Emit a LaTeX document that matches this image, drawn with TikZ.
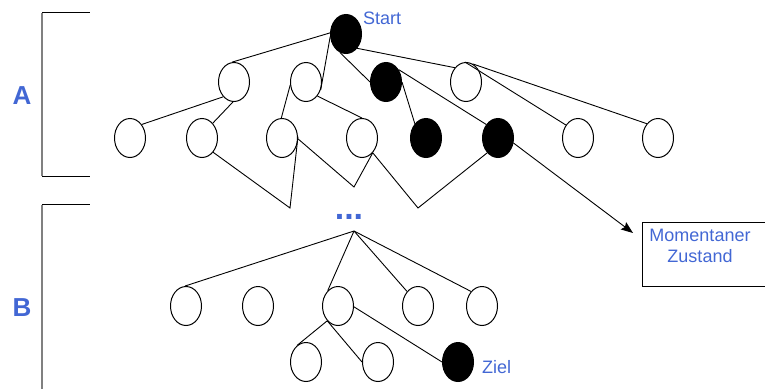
\documentclass[tikz,border=0pt]{standalone}
\usepackage{fontspec}
\setmainfont{Liberation Sans}
\usetikzlibrary{shapes.geometric,arrows.meta}
\definecolor{labelblue}{RGB}{66,103,212}
\definecolor{bracketgray}{RGB}{128,128,128}
\tikzset{
  state/.style={ellipse,draw,line width=1pt,inner sep=0pt,
    minimum width=31pt,minimum height=39pt},
  visited/.style={state,fill=black},
  edge/.style={line width=0.9pt},
  lbl/.style={text=labelblue,inner sep=0pt,font=\fontsize{18}{21}\selectfont},
  part/.style={text=labelblue,inner sep=0pt,font=\fontsize{26}{28}\selectfont\bfseries},
  brackethead/.style={line width=1pt},
  bracketbar/.style={line width=2pt,bracketgray},
}
\begin{document}
\begin{tikzpicture}[x=1pt,y=-1pt]
\useasboundingbox (0,0) rectangle (765,388);

% section brackets and their letters
\draw[brackethead] (42,12) -- (90,12);
\draw[brackethead] (42,176) -- (90,176);
\draw[bracketbar] (42,13) -- (42,176);
\draw[brackethead] (42,204) -- (90,204);
\draw[bracketbar] (42,205) -- (42,390);
\node[part] (lA) at (22,96) {A};
\node[part] (lB) at (22,308) {B};

% upper tree
\node[visited] (s) at (346,34) {};
\node[state]   (a1) at (234,82) {};
\node[state]   (a2) at (306,82) {};
\node[visited] (a3) at (386,82) {};
\node[state]   (a4) at (466,82) {};
\node[state]   (b1) at (130,138) {};
\node[state]   (b2) at (202,138) {};
\node[state]   (b3) at (282,138) {};
\node[state]   (b4) at (362,138) {};
\node[visited] (b5) at (426,138) {};
\node[visited] (b6) at (498,138) {};
\node[state]   (b7) at (578,138) {};
\node[state]   (b8) at (658,138) {};
\node[lbl,anchor=base west] (tstart) at (363,24) {Start};

\draw[edge] (s.176) -- (a1.96);
\draw[edge] (s.190) -- (a2.332);
\draw[edge] (s.252) -- (a3.180);
\draw[edge] (s.308) -- (a4.128);
\draw[edge] (a3.0) -- (b5.128);
\draw[edge] (a3.45) -- (b6.131);
\draw[edge] (a4.93) -- (b7.133);
\draw[edge] (a4.69) -- (b8.128);
\draw[edge] (a2.191) -- (b3.92);
\draw[edge] (a2.309) -- (b4.90);
\draw[edge] (a1.234) -- (b1.49);
\draw[edge] (a1.267) -- (b2.54);

% converging paths below the second level
\coordinate (v1) at (290,208);
\coordinate (v2) at (354,187);
\coordinate (v3) at (418,208);
\draw[edge] (b2.308) -- (v1) -- (b3.5);
\draw[edge] (b3.357) -- (v2) -- (b4.306);
\draw[edge] (b4.306) -- (v3) -- (b6.234);

% current state box
\node[draw,line width=1pt,minimum width=140pt,minimum height=64pt,
  anchor=north west] (box) at (642,222) {};
\node[lbl,align=center] (tbox) at (700,246) {Momentaner\\Zustand};
\coordinate (tip) at (633,233);
\draw[edge,-{Stealth[length=12pt,width=9pt,inset=2pt]}] (b6.342) -- (tip);

% lower tree
\node[text=labelblue,inner sep=0pt,font=\fontsize{34}{34}\selectfont\bfseries,
  anchor=base] (dots) at (349,219) {...};
\coordinate (f) at (354,231);
\node[state]   (m1) at (186,306) {};
\node[state]   (m2) at (258,306) {};
\node[state]   (m3) at (338,306) {};
\node[state]   (m4) at (418,306) {};
\node[state]   (m5) at (482,306) {};
\node[state]   (c1) at (306,362) {};
\node[state]   (c2) at (378,362) {};
\node[visited] (z)  at (458,362) {};
\node[lbl,anchor=base west] (tziel) at (482,373) {Ziel};

\draw[edge] (f) -- (m1.93);
\draw[edge] (f) -- (m3.124);
\draw[edge] (f) -- (m4.127);
\draw[edge] (f) -- (m5.127);
\draw[edge] (m3.234) -- (c1.117);
\draw[edge] (m3.234) -- (c2.180);
\draw[edge] (m3.357) -- (z.180);
\end{tikzpicture}
\end{document}
